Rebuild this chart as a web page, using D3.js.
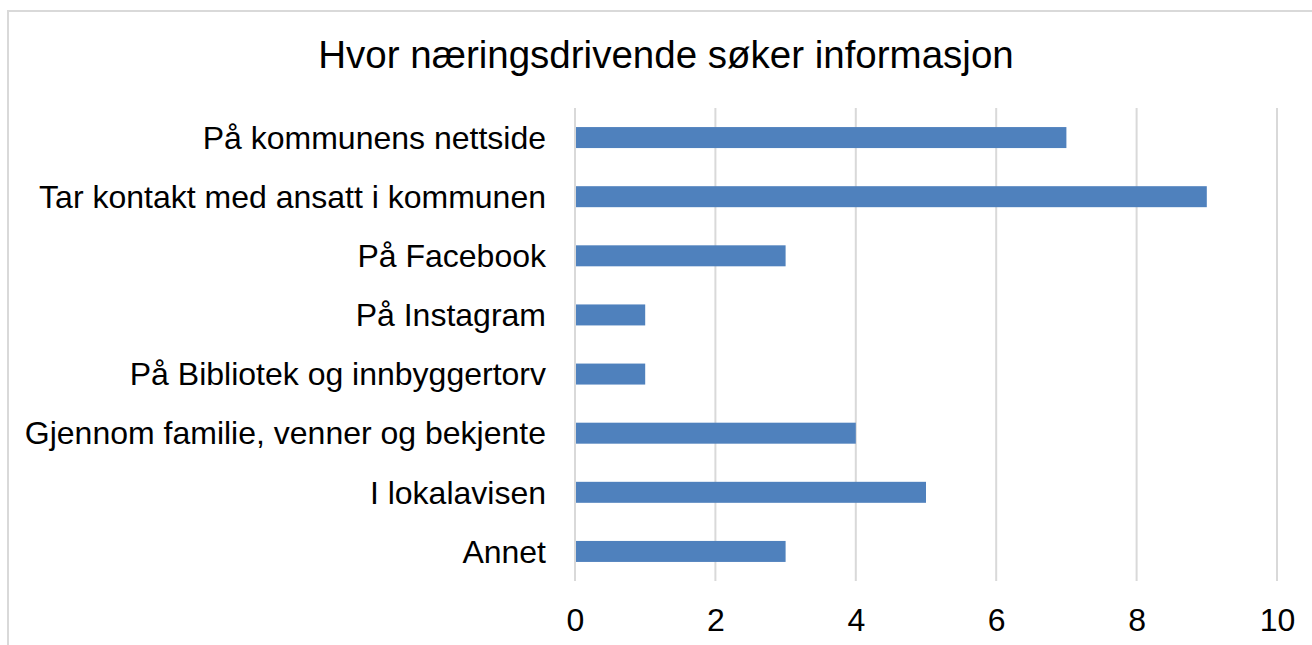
<!DOCTYPE html>
<html><head><meta charset="utf-8">
<script src="https://cdn.jsdelivr.net/npm/d3@7"></script>
<style>html,body{margin:0;padding:0;background:#fff;overflow:hidden}</style>
</head><body>
<svg id="c" width="1312" height="645"></svg>
<script>
const title = "Hvor næringsdrivende søker informasjon";
const categories = ["På kommunens nettside","Tar kontakt med ansatt i kommunen","På Facebook","På Instagram","På Bibliotek og innbyggertorv","Gjennom familie, venner og bekjente","I lokalavisen","Annet"];
const values = [7,9,3,1,1,4,5,3];
const tickValues = [0,2,4,6,8,10];

const svg = d3.select("#c");
const font = "Liberation Sans, Arial, sans-serif";
// chart border
svg.append("rect").attr("x",8).attr("y",11).attr("width",1320).attr("height",660)
  .attr("fill","#fff").attr("stroke","#d9d9d9").attr("stroke-width",2);

const m = {left:575, right:1277, top:108, bottom:581};
const x = d3.scaleLinear().domain([0,10]).range([m.left,m.right]);
const y = d3.scaleBand().domain(categories).range([m.top,m.bottom]).paddingInner(0.645).paddingOuter(0.3225);

// gridlines
svg.append("g").selectAll("line").data(tickValues).join("line")
  .attr("x1",d=>x(d)).attr("x2",d=>x(d)).attr("y1",m.top).attr("y2",m.bottom)
  .attr("stroke","#d9d9d9").attr("stroke-width",2);

// bars
svg.append("g").selectAll("rect").data(values).join("rect")
  .attr("x",x(0)+1).attr("y",(d,i)=>y(categories[i]))
  .attr("width",d=>x(d)-x(0)-1).attr("height",y.bandwidth())
  .attr("fill","#4f81bd");

// y axis labels
const ya = svg.append("g").attr("transform",`translate(${m.left-29},0)`)
  .call(d3.axisLeft(y).tickSize(0).tickPadding(0));
ya.select(".domain").remove();
ya.selectAll("text").attr("font-family",font).attr("font-size",32).attr("fill","#000").attr("dy","0.35em");

// x axis labels
const xa = svg.append("g").attr("transform",`translate(0,${m.bottom})`)
  .call(d3.axisBottom(x).tickValues(tickValues).tickSize(0).tickPadding(27));
xa.select(".domain").remove();
xa.selectAll("text").attr("font-family",font).attr("font-size",32).attr("fill","#000");

svg.append("text").attr("x",666).attr("y",68).attr("text-anchor","middle")
  .attr("font-family",font).attr("font-size",38.5).attr("fill","#000").text(title);
</script>
</body></html>
